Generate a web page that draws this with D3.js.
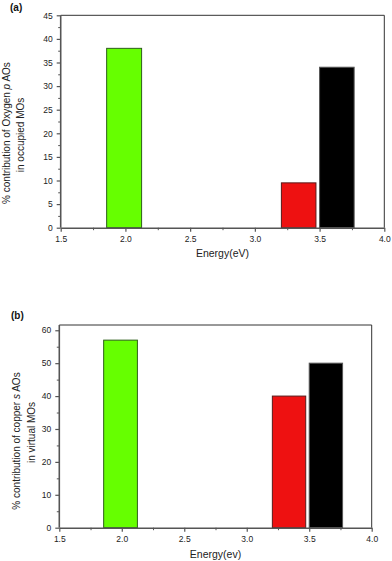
<!DOCTYPE html>
<html><head><meta charset="utf-8">
<script src="https://cdn.jsdelivr.net/npm/d3@7"></script>
<style>body{margin:0;background:#fff}svg{display:block}text{font-family:"Liberation Sans",Arial,sans-serif}</style>
</head><body>
<script>
// Data
const energyStart = [1.855, 3.205, 3.500];
const energyEnd   = [2.125, 3.472, 3.767];
const barColors   = ["#66ff00", "#ee1111", "#000000"];
const barStrokes  = ["#2d5e1a", "#5a1a1a", "#555555"];
const oxygenP     = [38, 9.5, 34];     // panel (a)
const copperS     = [57, 40, 50];      // panel (b)
const xTicks      = [1.5, 2.0, 2.5, 3.0, 3.5, 4.0];
const yTicksA     = [0, 5, 10, 15, 20, 25, 30, 35, 40, 45];
const yTicksB     = [0, 10, 20, 30, 40, 50, 60];

const svg = d3.select("body").append("svg").attr("width", 392).attr("height", 561);

function panel(cfg) {
  const x = d3.scaleLinear().domain([1.5, 4.0]).range([cfg.left, cfg.right]);
  const y = d3.scaleLinear().domain([0, cfg.yMax]).range([cfg.bottom, cfg.top]);
  const g = svg.append("g");

  // frame top/right
  g.append("line").attr("x1", cfg.left).attr("x2", cfg.right).attr("y1", cfg.top).attr("y2", cfg.top).attr("stroke", "#333").attr("stroke-width", 1);
  g.append("line").attr("x1", cfg.right).attr("x2", cfg.right).attr("y1", cfg.top).attr("y2", cfg.bottom).attr("stroke", "#333").attr("stroke-width", 1);

  // bars
  g.selectAll("rect.bar").data(cfg.values).enter().append("rect")
    .attr("x", (d, i) => x(energyStart[i]))
    .attr("width", (d, i) => x(energyEnd[i]) - x(energyStart[i]))
    .attr("y", d => y(d))
    .attr("height", d => y(0) - y(d))
    .attr("fill", (d, i) => barColors[i])
    .attr("stroke", (d, i) => barStrokes[i])
    .attr("stroke-width", 1);

  // minor ticks
  const xMinor = d3.range(1.75, 4.0, 0.5);
  g.append("g").attr("transform", `translate(0,${cfg.bottom})`)
    .call(d3.axisBottom(x).tickValues(xMinor).tickSize(2.5).tickFormat(""))
    .call(a => a.select(".domain").remove())
    .call(a => a.selectAll("line").attr("stroke", "#555").attr("stroke-width", 1));
  const yMinor = cfg.yTicks.slice(0, -1).map((t, i) => (t + cfg.yTicks[i + 1]) / 2);
  g.append("g").attr("transform", `translate(${cfg.left},0)`)
    .call(d3.axisLeft(y).tickValues(yMinor).tickSize(2.5).tickFormat(""))
    .call(a => a.select(".domain").remove())
    .call(a => a.selectAll("line").attr("stroke", "#555").attr("stroke-width", 1));

  // major axes
  const xa = g.append("g").attr("transform", `translate(0,${cfg.bottom})`)
    .call(d3.axisBottom(x).tickValues(xTicks).tickSize(4).tickSizeOuter(0).tickPadding(4).tickFormat(d3.format(".1f")));
  xa.select(".domain").attr("stroke", "#555").attr("stroke-width", 1.6);
  xa.selectAll("line").attr("stroke", "#555").attr("stroke-width", 1.2);
  xa.selectAll("text").attr("font-size", 8.5).attr("fill", "#222").attr("font-family", '"Liberation Sans",Arial,sans-serif');

  const ya = g.append("g").attr("transform", `translate(${cfg.left},0)`)
    .call(d3.axisLeft(y).tickValues(cfg.yTicks).tickSize(4).tickSizeOuter(0).tickPadding(4));
  ya.select(".domain").attr("stroke", "#555").attr("stroke-width", 1.6)
    .attr("d", `M0,${cfg.bottom}V${cfg.top}`);
  ya.selectAll("line").attr("stroke", "#555").attr("stroke-width", 1.2);
  ya.selectAll("text").attr("font-size", 8.5).attr("fill", "#222").attr("font-family", '"Liberation Sans",Arial,sans-serif');

  // panel label
  g.append("text").attr("x", cfg.labX).attr("y", cfg.labY).attr("font-size", 10).attr("font-weight", "bold").attr("fill", "#111").text(cfg.label);

  // x title
  g.append("text").attr("x", (cfg.left + cfg.right) / 2).attr("y", cfg.xTitleY).attr("text-anchor", "middle")
    .attr("font-size", 10.5).attr("fill", "#222").text(cfg.xTitle);

  // y title (two lines)
  const t1 = g.append("text").attr("transform", `translate(${cfg.yl1X},${cfg.yl1Y}) rotate(-90)`)
    .attr("text-anchor", "middle").attr("dy", "0.35em").attr("font-size", 10).attr("fill", "#222");
  cfg.yLine1.forEach(p => t1.append("tspan").attr("font-style", p[1] ? "italic" : "normal").text(p[0]));
  g.append("text").attr("transform", `translate(${cfg.yl2X},${cfg.yl2Y}) rotate(-90)`)
    .attr("text-anchor", "middle").attr("dy", "0.35em").attr("font-size", 10).attr("fill", "#222").text(cfg.yLine2);
}

panel({
  left: 60.7, right: 384.3, top: 15.3, bottom: 227.7, yMax: 45, yTicks: yTicksA, values: oxygenP,
  label: "(a)", labX: 10, labY: 10.5, xTitle: "Energy(eV)", xTitleY: 257,
  yLine1: [["% contribution of Oxygen ", false], ["p", true], [" AOs", false]], yLine2: "in occupied MOs",
  yl1X: 6, yl1Y: 133, yl2X: 20.5, yl2Y: 135
});
panel({
  left: 59.3, right: 371.7, top: 325, bottom: 527.7, yMax: 61.6, yTicks: yTicksB, values: copperS,
  label: "(b)", labX: 11, labY: 318.5, xTitle: "Energy(ev)", xTitleY: 557.5,
  yLine1: [["% contribution of copper ", false], ["s", true], [" AOs", false]], yLine2: "in virtual MOs",
  yl1X: 16, yl1Y: 441, yl2X: 31, yl2Y: 432.5
});
</script>
</body></html>
